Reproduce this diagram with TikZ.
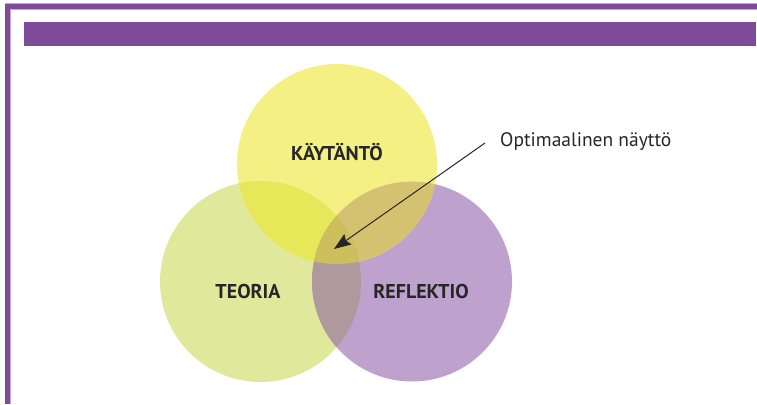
\documentclass[tikz,border=0pt]{standalone}
\usepackage{fontspec}
\setmainfont{PT Sans}
\usetikzlibrary{arrows.meta}
\definecolor{kehys}{HTML}{7E4A9A}
\definecolor{kehysvalo}{HTML}{C9A6DA}
\definecolor{keltainen}{HTML}{F4F084}
\definecolor{vihrea}{HTML}{DFE89B}
\definecolor{violetti}{HTML}{BEA1CD}
\definecolor{kv}{HTML}{E6E85A}
\definecolor{kvi}{HTML}{D4C271}
\definecolor{vvi}{HTML}{AE9A9D}
\definecolor{kaikki}{HTML}{CCBF5C}
\newcommand{\kaytanto}{(337,164) circle (100)}
\newcommand{\teoria}{(260.5,281.5) circle (100.5)}
\newcommand{\reflektio}{(412,281.5) circle (100)}
\tikzset{
  otsikko/.style={font=\bfseries\fontsize{20}{24}\selectfont, text=black!85},
  nuoli/.style={-{Stealth[length=17pt,width=12.5pt,inset=2.5pt]}, line width=1pt, black!85}
}

\begin{document}
\begin{tikzpicture}[x=1pt,y=-1pt]
  \useasboundingbox (0,0) rectangle (757,404);

  % kehys
  \fill[kehysvalo] (5,3) rectangle (757,10);
  \fill[kehysvalo] (5,3) rectangle (11,404);
  \fill[kehys] (5,4) rectangle (757,9);
  \fill[kehys] (5,4) rectangle (10,404);
  \fill[kehys] (24,22) rectangle (756,46);

  % ympyrat
  \fill[vihrea] \teoria;
  \fill[violetti] \reflektio;
  \fill[keltainen] \kaytanto;
  \begin{scope}
    \clip \kaytanto;
    \fill[kv] \teoria;
    \fill[kvi] \reflektio;
  \end{scope}
  \begin{scope}
    \clip \teoria;
    \fill[vvi] \reflektio;
  \end{scope}
  \begin{scope}
    \clip \kaytanto;
    \clip \teoria;
    \fill[kaikki] \reflektio;
  \end{scope}

  \node[otsikko] (kay) at (337,152) {KÄYTÄNTÖ};
  \node[otsikko] (teo) at (248,291) {TEORIA};
  \node[otsikko] (ref) at (421,291) {REFLEKTIO};

  \node[anchor=west, font=\fontsize{19.5}{23}\selectfont, text=black!85, inner sep=0pt] (opt) at (500,142) {Optimaalinen näyttö};
  \coordinate (alku) at (485,143);
  \coordinate (karki) at (334,249);
  \draw[nuoli] (alku) -- (karki);
\end{tikzpicture}
\end{document}
